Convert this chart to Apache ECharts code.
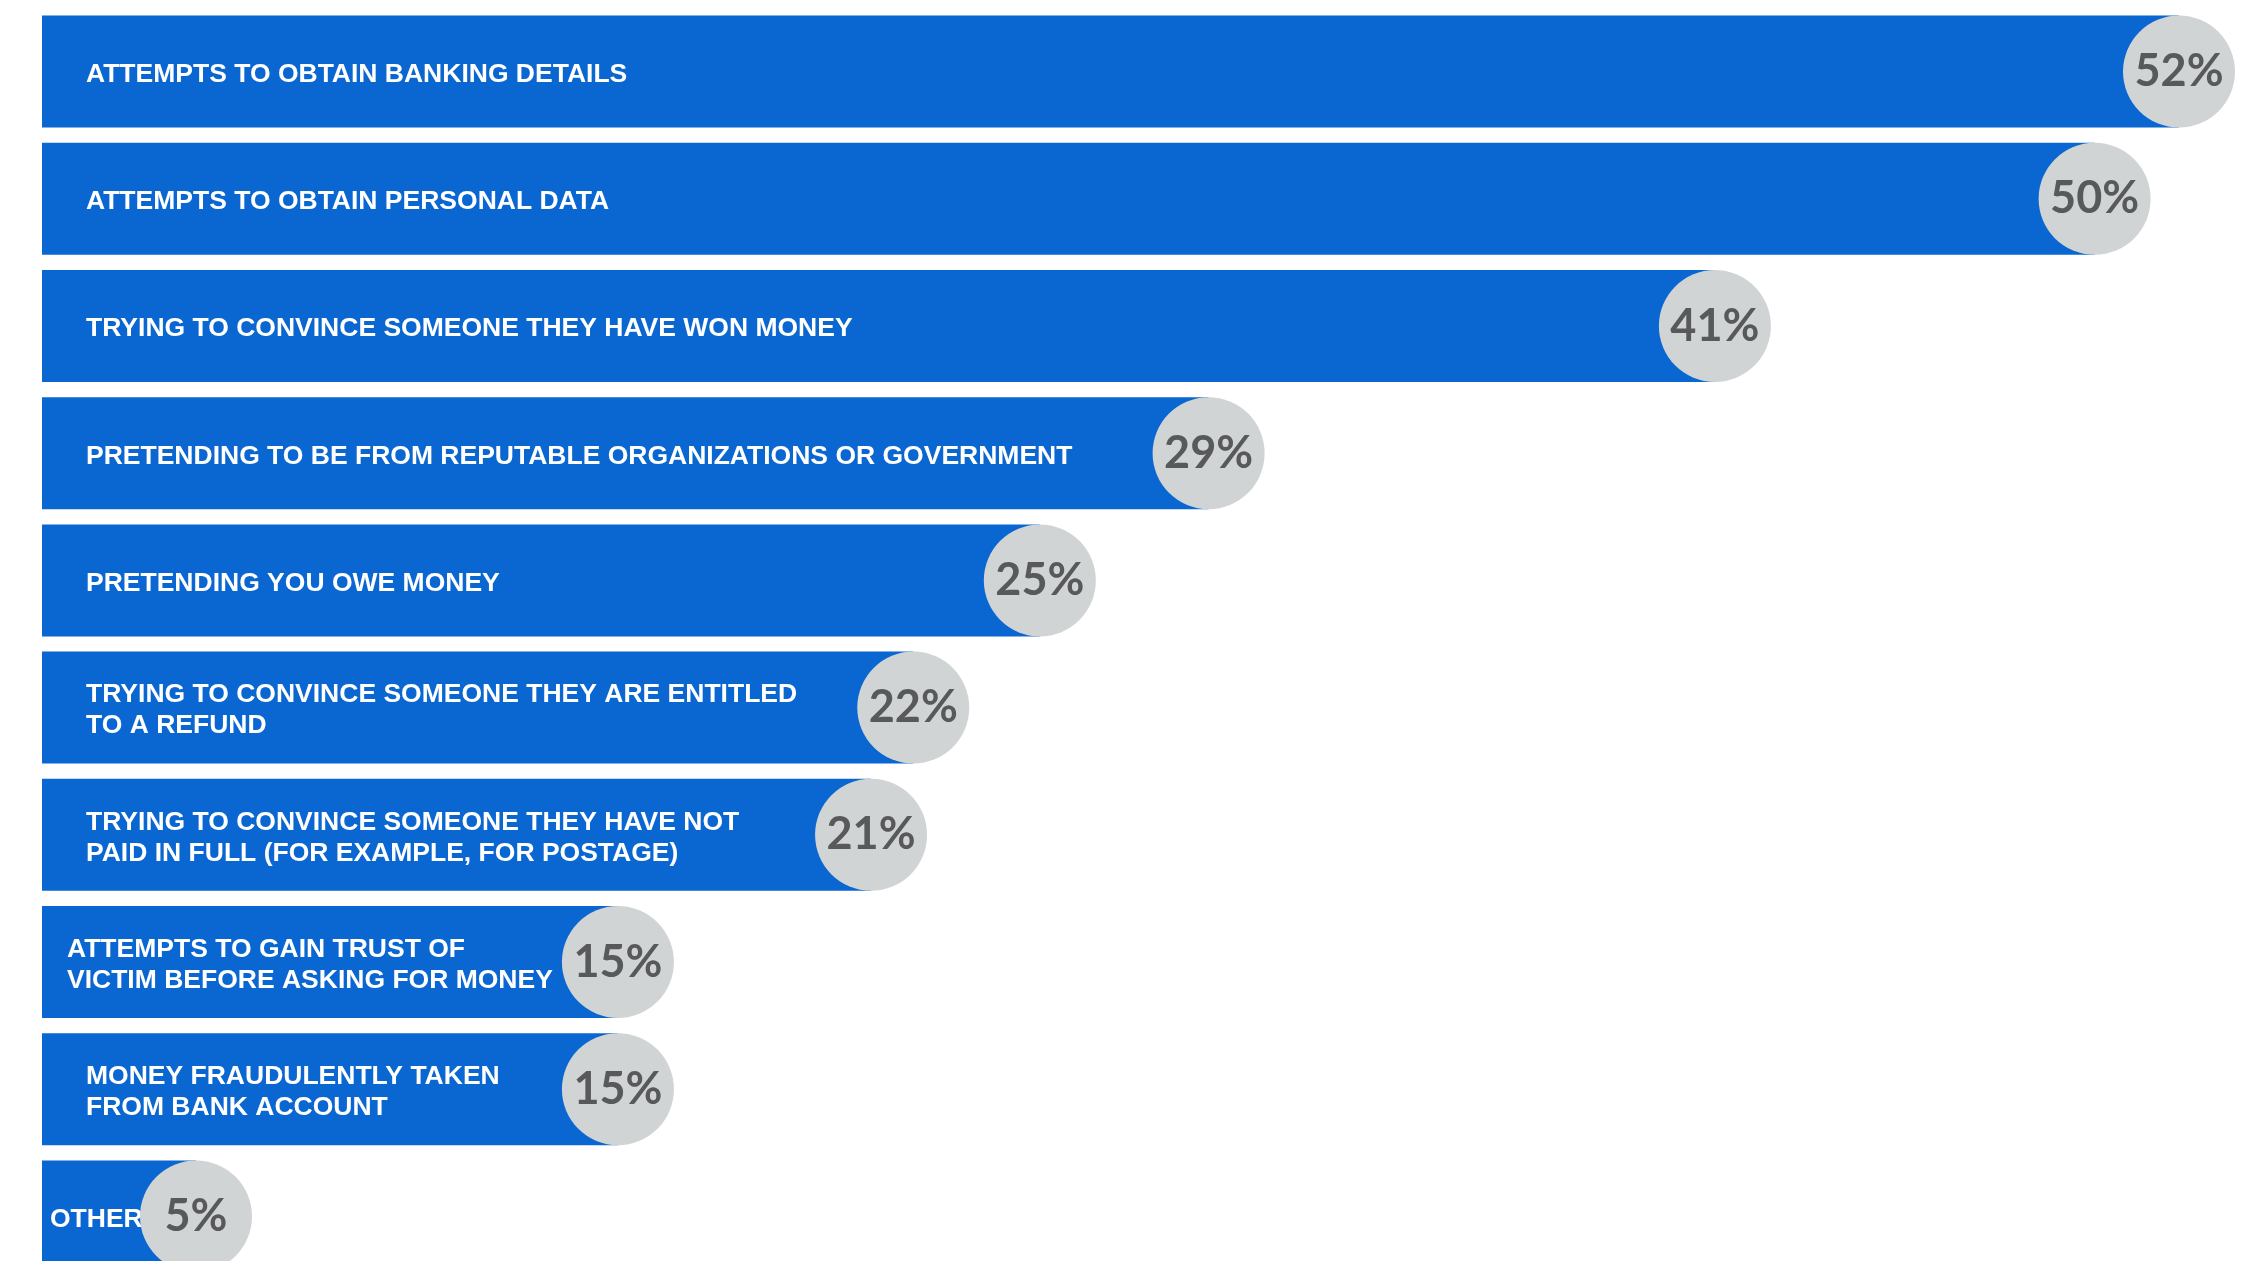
<!DOCTYPE html>
<html>
<head>
<meta charset="utf-8">
<script src="https://cdn.jsdelivr.net/npm/echarts@6/dist/echarts.min.js"></script>
<style>
  html, body { margin: 0; padding: 0; background: #ffffff; }
  #chart { width: 2254px; height: 1261px; }
</style>
</head>
<body>
<div id="chart"></div>
<script>
// Scam types, top to bottom
const categories = [
  'ATTEMPTS TO OBTAIN BANKING DETAILS',
  'ATTEMPTS TO OBTAIN PERSONAL DATA',
  'TRYING TO CONVINCE SOMEONE THEY HAVE WON MONEY',
  'PRETENDING TO BE FROM REPUTABLE ORGANIZATIONS OR GOVERNMENT',
  'PRETENDING YOU OWE MONEY',
  'TRYING TO CONVINCE SOMEONE THEY ARE ENTITLED\nTO A REFUND',
  'TRYING TO CONVINCE SOMEONE THEY HAVE NOT\nPAID IN FULL (FOR EXAMPLE, FOR POSTAGE)',
  'ATTEMPTS TO GAIN TRUST OF\nVICTIM BEFORE ASKING FOR MONEY',
  'MONEY FRAUDULENTLY TAKEN\nFROM BANK ACCOUNT',
  'OTHER'
];

// Share of respondents, in percent
const shares = [52, 50, 41, 29, 25, 22, 21, 15, 15, 5];

const BLUE = '#0A67D1';
const BUBBLE = '#D1D4D5';
const BUBBLE_TEXT = '#58595B';

const chart = echarts.init(document.getElementById('chart'), null, { renderer: 'canvas' });

// Inner spacing of the category text from the bar's left edge
function labelInset(i) {
  if (i === 7) return 25;
  if (i === 9) return 8;
  return 44;
}

const barData = shares.map((v, i) => ({
  value: v,
  label: { distance: labelInset(i) }
}));

const bubbleData = shares.map((v, i) => [v, categories[i]]);

chart.setOption({
  animation: false,
  backgroundColor: '#ffffff',
  // the last row runs past the bottom edge of the page
  grid: {
    left: 42, right: 75, top: 8, height: 1272,
    containLabel: false,
    outerBoundsMode: 'none'
  },
  xAxis: {
    type: 'value',
    min: 1.35,
    max: 52,
    show: false
  },
  yAxis: {
    type: 'category',
    data: categories,
    inverse: true,
    show: false
  },
  series: [
    {
      type: 'bar',
      data: barData,
      barWidth: 112,
      clip: true,
      itemStyle: { color: BLUE },
      label: {
        show: true,
        position: 'insideLeft',
        offset: [0, 3],
        formatter: (p) => categories[p.dataIndex],
        color: '#ffffff',
        fontFamily: '"Liberation Sans", Arial, sans-serif',
        fontWeight: 'bold',
        fontSize: 26.5,
        lineHeight: 31,
        align: 'left'
      },
      z: 2
    },
    {
      type: 'scatter',
      data: bubbleData,
      symbol: 'circle',
      symbolSize: 112,
      clip: false,
      itemStyle: { color: BUBBLE, opacity: 1 },
      label: {
        show: true,
        position: 'inside',
        formatter: (p) => p.value[0] + '%',
        color: BUBBLE_TEXT,
        fontFamily: 'Lato, "Noto Sans", sans-serif',
        fontWeight: 'bold',
        fontSize: 45
      },
      z: 3
    }
  ]
});
</script>
</body>
</html>
